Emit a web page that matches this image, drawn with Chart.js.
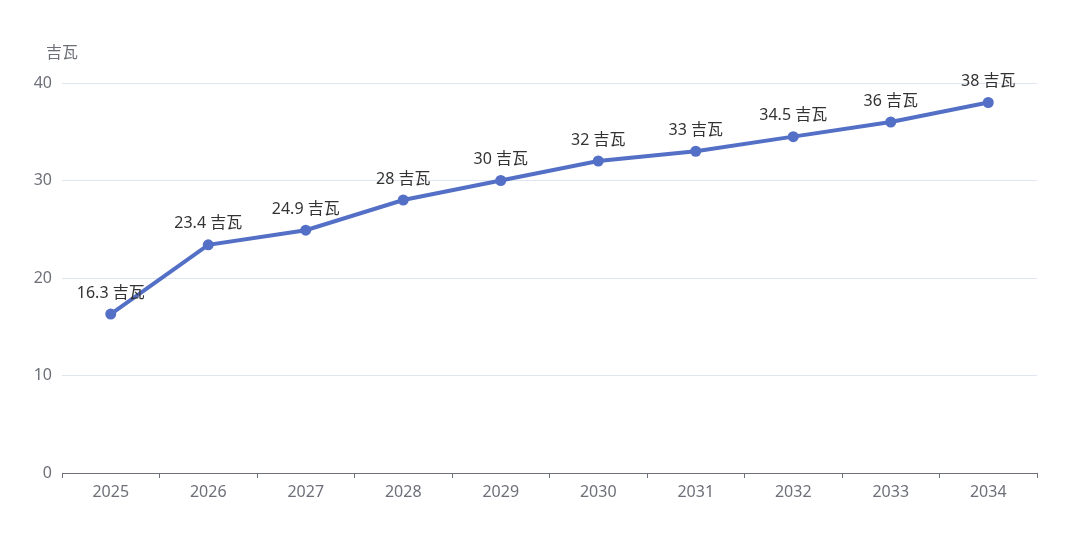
<!DOCTYPE html>
<html>
<head>
<meta charset="utf-8">
<script src="https://cdn.jsdelivr.net/npm/chart.js@4.4.0/dist/chart.umd.min.js"></script>
<style>
html,body{margin:0;padding:0;background:#fff;}
#wrap{width:1080px;height:557px;}
</style>
</head>
<body>
<div id="wrap"><canvas id="c" width="1080" height="557"></canvas></div>
<script>
const categories = ['2025','2026','2027','2028','2029','2030','2031','2032','2033','2034'];
const capacity = [16.3, 23.4, 24.9, 28, 30, 32, 33, 34.5, 36, 38];
const unit = '吉瓦';
const yTicks = [0, 10, 20, 30, 40];

const FONT = '"Noto Sans", "Noto Sans CJK SC", sans-serif';

const labelPlugin = {
  id: 'pointLabels',
  afterDatasetsDraw(chart) {
    const ctx = chart.ctx;
    const meta = chart.getDatasetMeta(0);
    ctx.save();
    ctx.font = '16px ' + FONT;
    ctx.fillStyle = '#333333';
    ctx.textAlign = 'center';
    ctx.textBaseline = 'middle';
    meta.data.forEach((pt, i) => {
      ctx.fillText(capacity[i] + ' ' + unit, pt.x, pt.y - 21);
    });
    ctx.fillStyle = '#6e7079';
    ctx.fillText(unit, chart.chartArea.left, chart.chartArea.top - 30);
    ctx.restore();
  }
};

new Chart(document.getElementById('c'), {
  type: 'line',
  data: {
    labels: categories,
    datasets: [{
      data: capacity,
      borderColor: '#5470c6',
      backgroundColor: '#5470c6',
      borderWidth: 4,
      pointRadius: 5.5,
      pointBackgroundColor: '#5470c6',
      pointBorderColor: '#5470c6',
      pointBorderWidth: 0,
      tension: 0,
      fill: false
    }]
  },
  options: {
    responsive: false,
    animation: false,
    layout: { padding: { top: 83, right: 43, left: 0, bottom: 0 } },
    plugins: { legend: { display: false }, tooltip: { enabled: false } },
    scales: {
      x: {
        type: 'category',
        offset: true,
        grid: {
          display: true,
          offset: true,
          drawOnChartArea: false,
          drawTicks: true,
          tickLength: 5,
          color: '#6e7079',
          lineWidth: 1
        },
        border: { display: true, color: '#6e7079', width: 1 },
        ticks: {
          color: '#6e7079',
          font: { family: FONT, size: 16 },
          padding: 5,
          maxRotation: 0,
          autoSkip: false
        },
        afterFit(s) { s.height = 84; }
      },
      y: {
        min: 0,
        max: 40,
        afterBuildTicks(s) { s.ticks = yTicks.map(v => ({ value: v })); },
        grid: { color: '#e0e6f1', drawTicks: false, lineWidth: 1 },
        border: { display: false },
        ticks: {
          color: '#6e7079',
          font: { family: FONT, size: 16 },
          padding: 10
        },
        afterFit(s) { s.width = 62; }
      }
    }
  },
  plugins: [labelPlugin]
});
</script>
</body>
</html>
